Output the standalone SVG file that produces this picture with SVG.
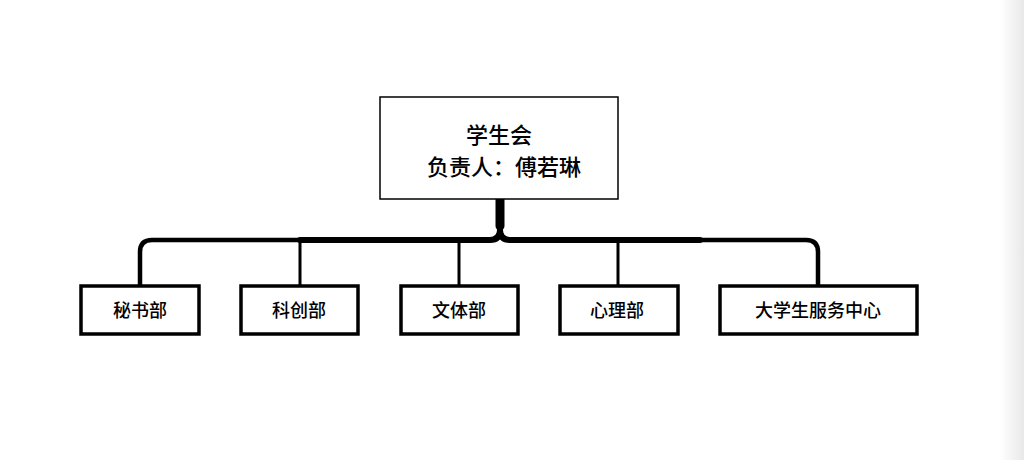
<svg xmlns="http://www.w3.org/2000/svg" width="1024" height="460" viewBox="0 0 1024 460">
<defs>
<linearGradient id="edge" x1="0" x2="1" y1="0" y2="0"><stop offset="0" stop-color="#fff"/><stop offset="1" stop-color="#e8e8e8"/></linearGradient>
<style>
.t{font-family:"Noto Sans CJK SC","Noto Sans",sans-serif;fill:#000;text-anchor:middle;font-weight:500}
.box{fill:#fff;stroke:#000;stroke-width:3.5}
.c{fill:none;stroke:#000;stroke-linecap:round;stroke-linejoin:round}
</style>
</defs>
<rect width="1024" height="460" fill="#fff"/>
<rect x="1000" y="0" width="24" height="460" fill="url(#edge)"/>
<g id="connectors">
<path class="c" d="M500 199 V228 Q500 240 488 240 H152 Q140 240 140 252 V285" stroke-width="4.5"/>
<path class="c" d="M500 199 V228 Q500 240 512 240 H806 Q818 240 818 252 V285" stroke-width="4.5"/>
<path class="c" d="M500 199 V226" stroke-width="9"/>
<path class="c" d="M300 240 H490 Q500 240 500 230 Q500 240 510 240 H700" stroke-width="6"/>
<path class="c" d="M300 242 V285" stroke-width="3"/>
<path class="c" d="M459 242 V285" stroke-width="3"/>
<path class="c" d="M618 242 V285" stroke-width="3"/>
</g>
<g id="root">
<rect x="380" y="97" width="238" height="102" fill="#fff" stroke="#000" stroke-width="1.5"/>
<text class="t" x="499" y="143" font-size="22">学生会</text>
<text class="t" x="504" y="175" font-size="22">负责人：傅若琳</text>
</g>
<g id="n1"><rect class="box" x="81" y="286" width="118" height="48"/><text class="t" x="140" y="317" font-size="18">秘书部</text></g>
<g id="n2"><rect class="box" x="241" y="286" width="117" height="48"/><text class="t" x="299" y="317" font-size="18">科创部</text></g>
<g id="n3"><rect class="box" x="401" y="286" width="117" height="48"/><text class="t" x="459" y="317" font-size="18">文体部</text></g>
<g id="n4"><rect class="box" x="560" y="286" width="118" height="48"/><text class="t" x="617" y="317" font-size="18">心理部</text></g>
<g id="n5"><rect class="box" x="720" y="286" width="197" height="48"/><text class="t" x="818" y="317" font-size="18">大学生服务中心</text></g>
</svg>
